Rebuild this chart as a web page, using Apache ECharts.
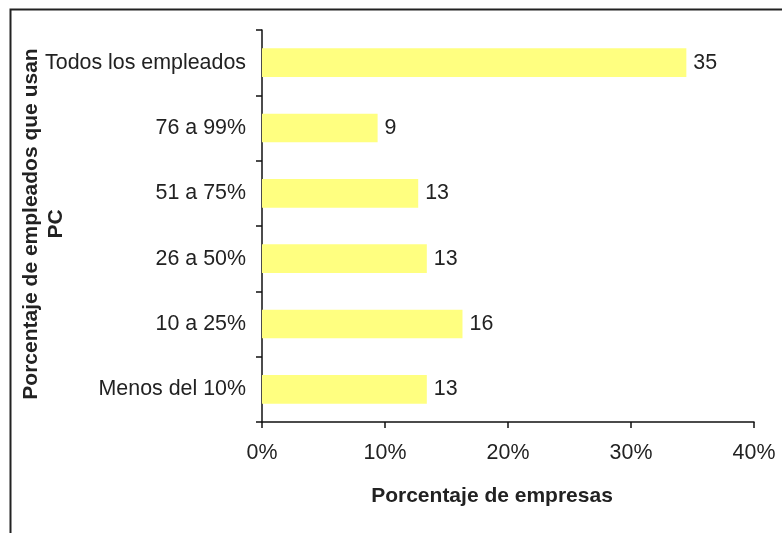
<!DOCTYPE html>
<html>
<head>
<meta charset="utf-8">
<script src="https://cdn.jsdelivr.net/npm/echarts@6/dist/echarts.min.js"></script>
<style>
  html, body { margin: 0; padding: 0; background: #fff; }
  #chart { width: 782px; height: 533px; }
</style>
</head>
<body>
<div id="chart"></div>
<script>
// Categories listed bottom to top (ECharts draws category axis upward)
const categories = ['Menos del 10%', '10 a 25%', '26 a 50%', '51 a 75%', '76 a 99%', 'Todos los empleados'];
// Share of companies (%) in each band of PC usage
const shares = [13.4, 16.3, 13.4, 12.7, 9.4, 34.5];
const xTicks = [0, 10, 20, 30, 40];

const FONT = '"Liberation Sans", Arial, sans-serif';
const FS = 21.4;

const chart = echarts.init(document.getElementById('chart'), null, { renderer: 'canvas' });

chart.setOption({
  animation: false,
  backgroundColor: '#ffffff',
  grid: { left: 262, right: 28, top: 30, bottom: 111, containLabel: false },
  xAxis: {
    type: 'value',
    min: xTicks[0],
    max: xTicks[xTicks.length - 1],
    interval: 10,
    axisLine: { show: true, lineStyle: { color: '#111', width: 1.5 } },
    axisTick: { show: true, length: 6, lineStyle: { color: '#111', width: 1.5 } },
    splitLine: { show: false },
    axisLabel: {
      margin: 21,
      color: '#222',
      fontFamily: FONT,
      fontSize: FS,
      formatter: v => v + '%'
    }
  },
  yAxis: {
    type: 'category',
    data: categories,
    axisLine: { show: true, lineStyle: { color: '#111', width: 1.5 } },
    axisTick: { show: true, length: 6, alignWithLabel: false, lineStyle: { color: '#111', width: 1.5 } },
    splitLine: { show: false },
    axisLabel: {
      margin: 16,
      color: '#222',
      fontFamily: FONT,
      fontSize: FS
    }
  },
  series: [{
    type: 'bar',
    data: shares,
    barWidth: '44%',
    itemStyle: { color: '#ffff80' },
    label: {
      show: true,
      position: 'right',
      distance: 7,
      color: '#222',
      fontFamily: FONT,
      fontSize: FS,
      formatter: p => Math.round(p.value)
    }
  }],
  graphic: [
    {
      type: 'rect',
      shape: { x: 10.5, y: 9.5, width: 800, height: 600 },
      style: { fill: 'none', stroke: '#222', lineWidth: 2 },
      silent: true
    },
    {
      type: 'text',
      x: 492,
      y: 496,
      style: {
        text: 'Porcentaje de empresas',
        fontFamily: FONT,
        fontWeight: 'bold',
        fontSize: 21,
        fill: '#222',
        align: 'center',
        verticalAlign: 'middle'
      }
    },
    {
      type: 'text',
      x: 44,
      y: 224,
      rotation: Math.PI / 2,
      style: {
        text: 'Porcentaje de empleados que usan\nPC',
        fontFamily: FONT,
        fontWeight: 'bold',
        fontSize: 21,
        lineHeight: 25,
        fill: '#222',
        align: 'center',
        verticalAlign: 'middle'
      }
    }
  ]
});
</script>
</body>
</html>
